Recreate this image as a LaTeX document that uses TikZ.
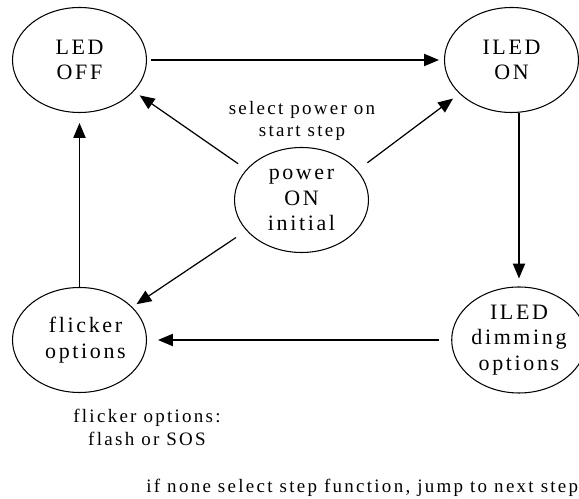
\documentclass[tikz,border=0pt]{standalone}
\usepackage{fontspec}
\setmainfont[LetterSpace=12]{Liberation Serif}
\usepackage{tikz}
\usetikzlibrary{shapes.geometric,arrows.meta}

\begin{document}
\begin{tikzpicture}[scale=0.2]
\tikzstyle{every node}+=[inner sep=0pt]
\tikzstyle{ledstate}=[draw=black, line width=0.6pt, ellipse, minimum width=2.68cm, minimum height=2.1cm, align=center, font=\fontsize{12.5}{14.7}\selectfont]
\tikzstyle{trans}=[black, line width=0.7pt, -{Triangle[length=8.5pt,width=7pt]}]
\tikzstyle{note}=[align=center, font=\fontsize{10.8}{13}\selectfont]
\useasboundingbox (0,0) rectangle (57.9,-49.9);
% states
\node [ledstate] (ledoff) at (7.95,-6) {LED\\OFF};
\node [ledstate] (iledon) at (51.15,-6) {ILED\\ON};
\node [ledstate] (power) at (30.15,-20) {power\\ON\\initial};
\node [ledstate] (flicker) at (7.95,-34) {\hspace*{0.24cm}flicker\\\hspace*{0.24cm}options};
\node [ledstate, minimum width=2.56cm, minimum height=2.12cm] (dimming) at (51.9,-34) {ILED\\dimming\\options};
% transitions
\draw [trans, shorten <=0.08cm, shorten >=0.1cm] (ledoff) -- (iledon);
\draw [trans, shorten <=0.2cm, shorten >=0.14cm] (power.151) -- (ledoff.330);
\draw [trans, shorten <=0.25cm, shorten >=0.16cm] (power.28) -- (iledon.213);
\draw [trans, shorten <=0.25cm, shorten >=0.1cm] (power.209) -- (flicker.32);
\draw [trans, shorten >=0.2cm] (flicker.north) -- (ledoff.south);
\draw [trans, shorten >=0.16cm] (dimming.north |- iledon.south) -- (dimming.north);
\draw [trans, shorten <=0.24cm, shorten >=0.22cm] (dimming.west) -- (flicker.east);
% notes
\node [note] (startnote) at (30.2,-12.1) {select power on\\start step};
\node [note] (flickernote) at (14.7,-42.7) {flicker options:\\flash or SOS};
\node [note, anchor=base west] (stepnote) at (14.6,-49.3) {if none select step function, jump to next step};
\end{tikzpicture}
\end{document}
